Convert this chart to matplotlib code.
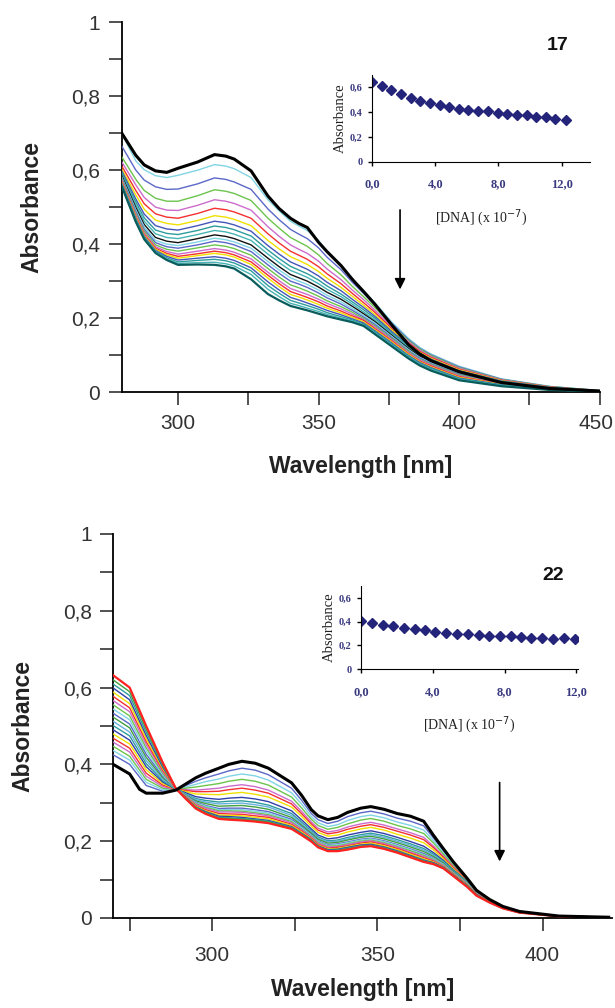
import matplotlib
matplotlib.use("Agg")
import matplotlib.pyplot as plt
import matplotlib.transforms as mtransforms
import numpy as np
from matplotlib.ticker import FuncFormatter, MultipleLocator

plt.rcParams['font.family'] = ['Liberation Sans', 'DejaVu Sans']

# ---- compound 17: wavelengths and spectra (one row per wavelength, 21 titration steps)
wl17 = [280, 285, 288, 292, 296, 300, 307, 313, 317, 320, 326, 332, 336, 340, 343, 346, 350, 353, 358, 362,
        366, 370, 376, 382, 386, 390, 400, 415, 432, 450]
abs17_rows = [
    [0.700, 0.698, 0.665, 0.636, 0.622, 0.611, 0.603, 0.598, 0.593, 0.589, 0.585, 0.581, 0.578, 0.575, 0.572, 0.569, 0.566, 0.564, 0.561, 0.559, 0.556],
    [0.640, 0.625, 0.600, 0.575, 0.560, 0.545, 0.533, 0.522, 0.514, 0.506, 0.499, 0.493, 0.488, 0.483, 0.479, 0.475, 0.472, 0.469, 0.466, 0.463, 0.460],
    [0.614, 0.601, 0.573, 0.545, 0.526, 0.509, 0.494, 0.481, 0.471, 0.462, 0.453, 0.446, 0.440, 0.435, 0.430, 0.426, 0.423, 0.420, 0.417, 0.415, 0.413],
    [0.598, 0.585, 0.555, 0.524, 0.500, 0.482, 0.465, 0.450, 0.438, 0.428, 0.418, 0.410, 0.404, 0.398, 0.393, 0.389, 0.386, 0.383, 0.380, 0.378, 0.376],
    [0.594, 0.580, 0.548, 0.516, 0.492, 0.473, 0.456, 0.441, 0.429, 0.418, 0.408, 0.400, 0.393, 0.386, 0.380, 0.375, 0.371, 0.367, 0.363, 0.360, 0.357],
    [0.605, 0.586, 0.549, 0.516, 0.491, 0.470, 0.452, 0.438, 0.426, 0.415, 0.404, 0.396, 0.389, 0.381, 0.373, 0.367, 0.362, 0.357, 0.352, 0.348, 0.344],
    [0.622, 0.600, 0.563, 0.531, 0.505, 0.483, 0.464, 0.450, 0.437, 0.426, 0.415, 0.406, 0.398, 0.390, 0.381, 0.374, 0.369, 0.362, 0.356, 0.350, 0.345],
    [0.642, 0.615, 0.579, 0.547, 0.520, 0.497, 0.477, 0.462, 0.449, 0.437, 0.425, 0.416, 0.408, 0.398, 0.388, 0.381, 0.375, 0.366, 0.359, 0.351, 0.344],
    [0.638, 0.611, 0.575, 0.543, 0.516, 0.493, 0.473, 0.458, 0.445, 0.433, 0.421, 0.412, 0.404, 0.394, 0.384, 0.377, 0.371, 0.362, 0.355, 0.347, 0.340],
    [0.630, 0.604, 0.568, 0.537, 0.510, 0.487, 0.467, 0.452, 0.439, 0.427, 0.415, 0.406, 0.398, 0.388, 0.378, 0.371, 0.365, 0.356, 0.349, 0.341, 0.334],
    [0.598, 0.580, 0.548, 0.518, 0.492, 0.470, 0.450, 0.435, 0.422, 0.410, 0.398, 0.389, 0.380, 0.370, 0.360, 0.352, 0.345, 0.336, 0.328, 0.318, 0.305],
    [0.530, 0.520, 0.495, 0.470, 0.447, 0.428, 0.410, 0.396, 0.384, 0.373, 0.362, 0.353, 0.344, 0.334, 0.324, 0.316, 0.308, 0.298, 0.288, 0.278, 0.265],
    [0.496, 0.490, 0.466, 0.443, 0.421, 0.403, 0.387, 0.373, 0.361, 0.350, 0.339, 0.330, 0.321, 0.311, 0.301, 0.293, 0.285, 0.276, 0.267, 0.258, 0.248],
    [0.470, 0.462, 0.440, 0.418, 0.398, 0.381, 0.366, 0.352, 0.340, 0.329, 0.318, 0.309, 0.300, 0.290, 0.280, 0.272, 0.264, 0.256, 0.248, 0.240, 0.233],
    [0.456, 0.449, 0.427, 0.406, 0.386, 0.370, 0.356, 0.342, 0.330, 0.320, 0.309, 0.300, 0.292, 0.282, 0.272, 0.264, 0.257, 0.249, 0.241, 0.234, 0.227],
    [0.445, 0.437, 0.415, 0.394, 0.375, 0.359, 0.345, 0.332, 0.320, 0.310, 0.300, 0.291, 0.283, 0.273, 0.264, 0.256, 0.249, 0.241, 0.234, 0.227, 0.221],
    [0.405, 0.410, 0.390, 0.371, 0.354, 0.339, 0.326, 0.314, 0.303, 0.293, 0.284, 0.276, 0.268, 0.259, 0.251, 0.244, 0.237, 0.230, 0.224, 0.218, 0.212],
    [0.380, 0.380, 0.365, 0.348, 0.333, 0.320, 0.308, 0.297, 0.287, 0.278, 0.270, 0.262, 0.255, 0.247, 0.240, 0.233, 0.227, 0.221, 0.215, 0.210, 0.205],
    [0.342, 0.344, 0.331, 0.317, 0.304, 0.293, 0.283, 0.274, 0.265, 0.258, 0.251, 0.244, 0.238, 0.231, 0.225, 0.219, 0.214, 0.209, 0.204, 0.200, 0.196],
    [0.305, 0.307, 0.297, 0.286, 0.276, 0.267, 0.259, 0.251, 0.244, 0.238, 0.232, 0.226, 0.221, 0.216, 0.211, 0.206, 0.202, 0.198, 0.195, 0.192, 0.189],
    [0.272, 0.275, 0.267, 0.258, 0.250, 0.242, 0.235, 0.229, 0.223, 0.217, 0.212, 0.207, 0.203, 0.199, 0.196, 0.194, 0.190, 0.187, 0.184, 0.181, 0.179],
    [0.238, 0.242, 0.236, 0.229, 0.222, 0.216, 0.210, 0.205, 0.200, 0.195, 0.191, 0.187, 0.183, 0.179, 0.176, 0.172, 0.169, 0.166, 0.163, 0.160, 0.157],
    [0.182, 0.190, 0.186, 0.181, 0.176, 0.172, 0.168, 0.164, 0.160, 0.157, 0.154, 0.151, 0.148, 0.145, 0.142, 0.139, 0.136, 0.133, 0.130, 0.127, 0.124],
    [0.128, 0.145, 0.142, 0.139, 0.136, 0.133, 0.130, 0.127, 0.124, 0.121, 0.118, 0.115, 0.112, 0.110, 0.107, 0.104, 0.102, 0.099, 0.097, 0.094, 0.091],
    [0.103, 0.121, 0.118, 0.116, 0.113, 0.110, 0.107, 0.105, 0.102, 0.099, 0.097, 0.094, 0.092, 0.089, 0.087, 0.084, 0.082, 0.080, 0.077, 0.075, 0.072],
    [0.085, 0.103, 0.101, 0.099, 0.096, 0.094, 0.091, 0.089, 0.087, 0.084, 0.082, 0.080, 0.077, 0.075, 0.073, 0.071, 0.068, 0.066, 0.064, 0.061, 0.058],
    [0.055, 0.070, 0.068, 0.066, 0.064, 0.062, 0.060, 0.058, 0.056, 0.054, 0.052, 0.050, 0.048, 0.046, 0.044, 0.042, 0.040, 0.038, 0.036, 0.034, 0.032],
    [0.026, 0.036, 0.035, 0.034, 0.033, 0.032, 0.031, 0.030, 0.029, 0.028, 0.027, 0.026, 0.025, 0.024, 0.023, 0.022, 0.021, 0.020, 0.019, 0.018, 0.016],
    [0.010, 0.016, 0.015, 0.015, 0.014, 0.014, 0.013, 0.013, 0.012, 0.012, 0.011, 0.011, 0.010, 0.010, 0.009, 0.009, 0.008, 0.008, 0.007, 0.007, 0.006],
    [0.003, 0.004, 0.004, 0.004, 0.003, 0.003, 0.003, 0.003, 0.003, 0.003, 0.002, 0.002, 0.002, 0.002, 0.002, 0.002, 0.001, 0.001, 0.001, 0.001, 0.001],
]
colors17 = ['black', '#80d4e4', '#5b68c8', '#6cc44c', '#cc6ccc', '#f43030', '#f0e000', '#4556b8', '#2e9c9c', '#46b4b4',
            '#111111', '#80d4e4', '#5b68c8', '#6cc44c', '#cc6ccc', '#f43030', '#f0e000', '#4556b8', '#2e9c9c', '#46b4b4', '#0a5c5c']

# ---- compound 22
wl22 = [270, 275, 278, 280, 285, 289, 292, 295, 298, 302, 305, 309, 313, 317, 324, 327, 330, 332, 335, 338,
        341, 345, 348, 352, 356, 360, 364, 367, 370, 373, 377, 380, 384, 388, 393, 405, 420]
abs22_rows = [
    [0.400, 0.425, 0.436, 0.447, 0.458, 0.468, 0.479, 0.490, 0.501, 0.512, 0.523, 0.533, 0.544, 0.555, 0.566, 0.577, 0.588, 0.599, 0.609, 0.620, 0.632],
    [0.375, 0.400, 0.411, 0.421, 0.432, 0.442, 0.453, 0.463, 0.474, 0.484, 0.495, 0.505, 0.516, 0.526, 0.537, 0.547, 0.558, 0.568, 0.579, 0.589, 0.600],
    [0.335, 0.367, 0.376, 0.385, 0.394, 0.403, 0.413, 0.422, 0.431, 0.440, 0.449, 0.458, 0.467, 0.476, 0.485, 0.494, 0.503, 0.512, 0.521, 0.530, 0.540],
    [0.325, 0.345, 0.353, 0.361, 0.369, 0.377, 0.386, 0.394, 0.402, 0.410, 0.418, 0.426, 0.435, 0.443, 0.451, 0.459, 0.467, 0.475, 0.484, 0.492, 0.500],
    [0.325, 0.330, 0.334, 0.338, 0.342, 0.346, 0.350, 0.354, 0.358, 0.362, 0.366, 0.370, 0.373, 0.377, 0.381, 0.385, 0.389, 0.393, 0.397, 0.401, 0.405],
    [0.333, 0.333, 0.334, 0.334, 0.334, 0.335, 0.335, 0.335, 0.335, 0.336, 0.336, 0.336, 0.336, 0.336, 0.336, 0.337, 0.337, 0.337, 0.337, 0.337, 0.337],
    [0.349, 0.345, 0.341, 0.338, 0.334, 0.332, 0.329, 0.326, 0.323, 0.322, 0.320, 0.319, 0.318, 0.317, 0.316, 0.315, 0.314, 0.313, 0.312, 0.311, 0.310],
    [0.365, 0.356, 0.348, 0.341, 0.333, 0.329, 0.323, 0.316, 0.311, 0.308, 0.305, 0.302, 0.300, 0.298, 0.296, 0.293, 0.291, 0.289, 0.288, 0.287, 0.285],
    [0.377, 0.365, 0.355, 0.345, 0.335, 0.329, 0.322, 0.312, 0.306, 0.302, 0.298, 0.293, 0.291, 0.288, 0.286, 0.282, 0.279, 0.277, 0.275, 0.273, 0.271],
    [0.390, 0.375, 0.362, 0.350, 0.338, 0.330, 0.321, 0.309, 0.302, 0.297, 0.291, 0.285, 0.282, 0.279, 0.276, 0.272, 0.268, 0.265, 0.262, 0.260, 0.258],
    [0.400, 0.383, 0.369, 0.356, 0.343, 0.334, 0.324, 0.312, 0.304, 0.298, 0.292, 0.286, 0.282, 0.279, 0.276, 0.271, 0.267, 0.264, 0.261, 0.259, 0.256],
    [0.408, 0.390, 0.375, 0.361, 0.347, 0.338, 0.327, 0.314, 0.305, 0.299, 0.293, 0.286, 0.282, 0.278, 0.275, 0.270, 0.266, 0.262, 0.259, 0.257, 0.254],
    [0.403, 0.385, 0.370, 0.356, 0.342, 0.333, 0.322, 0.310, 0.301, 0.295, 0.289, 0.282, 0.278, 0.274, 0.271, 0.266, 0.262, 0.258, 0.256, 0.254, 0.251],
    [0.390, 0.373, 0.359, 0.346, 0.333, 0.325, 0.315, 0.303, 0.294, 0.289, 0.283, 0.277, 0.273, 0.269, 0.266, 0.262, 0.258, 0.254, 0.252, 0.250, 0.247],
    [0.352, 0.338, 0.326, 0.315, 0.304, 0.297, 0.289, 0.279, 0.272, 0.267, 0.262, 0.257, 0.254, 0.251, 0.248, 0.244, 0.241, 0.238, 0.236, 0.234, 0.232],
    [0.320, 0.307, 0.297, 0.287, 0.278, 0.272, 0.265, 0.256, 0.250, 0.246, 0.242, 0.238, 0.235, 0.232, 0.230, 0.227, 0.224, 0.221, 0.219, 0.218, 0.216],
    [0.282, 0.272, 0.264, 0.257, 0.250, 0.245, 0.239, 0.232, 0.227, 0.224, 0.221, 0.217, 0.215, 0.213, 0.211, 0.208, 0.206, 0.204, 0.202, 0.201, 0.199],
    [0.266, 0.256, 0.248, 0.241, 0.234, 0.229, 0.223, 0.216, 0.211, 0.208, 0.205, 0.201, 0.199, 0.197, 0.195, 0.192, 0.190, 0.188, 0.186, 0.185, 0.184],
    [0.256, 0.246, 0.238, 0.231, 0.224, 0.219, 0.213, 0.206, 0.201, 0.198, 0.195, 0.191, 0.189, 0.187, 0.185, 0.182, 0.180, 0.178, 0.176, 0.175, 0.174],
    [0.262, 0.252, 0.243, 0.236, 0.228, 0.223, 0.216, 0.209, 0.203, 0.200, 0.197, 0.193, 0.191, 0.188, 0.186, 0.184, 0.181, 0.179, 0.177, 0.176, 0.174],
    [0.275, 0.264, 0.254, 0.245, 0.237, 0.231, 0.224, 0.216, 0.210, 0.206, 0.203, 0.198, 0.196, 0.193, 0.191, 0.188, 0.186, 0.184, 0.182, 0.180, 0.178],
    [0.286, 0.274, 0.264, 0.255, 0.245, 0.239, 0.232, 0.223, 0.217, 0.213, 0.210, 0.205, 0.203, 0.200, 0.198, 0.195, 0.192, 0.190, 0.188, 0.186, 0.185],
    [0.290, 0.278, 0.268, 0.259, 0.249, 0.243, 0.236, 0.227, 0.221, 0.217, 0.213, 0.208, 0.206, 0.203, 0.201, 0.198, 0.195, 0.192, 0.190, 0.188, 0.187],
    [0.283, 0.271, 0.261, 0.252, 0.242, 0.236, 0.229, 0.220, 0.214, 0.210, 0.206, 0.201, 0.199, 0.196, 0.194, 0.191, 0.188, 0.185, 0.183, 0.181, 0.180],
    [0.272, 0.260, 0.250, 0.241, 0.232, 0.226, 0.218, 0.210, 0.204, 0.200, 0.196, 0.191, 0.189, 0.186, 0.184, 0.181, 0.178, 0.175, 0.173, 0.172, 0.170],
    [0.265, 0.252, 0.241, 0.232, 0.222, 0.216, 0.208, 0.199, 0.193, 0.189, 0.185, 0.180, 0.178, 0.175, 0.172, 0.169, 0.166, 0.163, 0.161, 0.160, 0.158],
    [0.252, 0.240, 0.229, 0.220, 0.210, 0.204, 0.196, 0.187, 0.181, 0.177, 0.173, 0.168, 0.165, 0.163, 0.160, 0.157, 0.154, 0.151, 0.149, 0.148, 0.146],
    [0.215, 0.208, 0.201, 0.195, 0.187, 0.183, 0.177, 0.170, 0.166, 0.163, 0.160, 0.156, 0.154, 0.152, 0.150, 0.148, 0.146, 0.144, 0.142, 0.141, 0.140],
    [0.180, 0.175, 0.170, 0.166, 0.161, 0.158, 0.154, 0.150, 0.147, 0.145, 0.143, 0.140, 0.139, 0.137, 0.136, 0.134, 0.133, 0.132, 0.131, 0.130, 0.129],
    [0.146, 0.143, 0.139, 0.136, 0.133, 0.131, 0.128, 0.125, 0.123, 0.121, 0.120, 0.118, 0.117, 0.116, 0.115, 0.114, 0.113, 0.112, 0.111, 0.110, 0.109],
    [0.105, 0.104, 0.102, 0.101, 0.100, 0.099, 0.097, 0.096, 0.095, 0.094, 0.093, 0.092, 0.091, 0.090, 0.089, 0.088, 0.087, 0.086, 0.085, 0.084, 0.082],
    [0.072, 0.072, 0.071, 0.070, 0.069, 0.068, 0.068, 0.067, 0.066, 0.066, 0.065, 0.064, 0.064, 0.063, 0.063, 0.062, 0.061, 0.061, 0.060, 0.059, 0.058],
    [0.048, 0.048, 0.047, 0.047, 0.047, 0.046, 0.046, 0.045, 0.045, 0.045, 0.044, 0.044, 0.043, 0.043, 0.043, 0.042, 0.042, 0.041, 0.041, 0.041, 0.040],
    [0.030, 0.030, 0.029, 0.029, 0.029, 0.029, 0.028, 0.028, 0.028, 0.028, 0.027, 0.027, 0.027, 0.027, 0.026, 0.026, 0.026, 0.026, 0.025, 0.025, 0.025],
    [0.017, 0.017, 0.017, 0.016, 0.016, 0.016, 0.016, 0.016, 0.016, 0.015, 0.015, 0.015, 0.015, 0.015, 0.015, 0.015, 0.014, 0.014, 0.014, 0.014, 0.014],
    [0.005, 0.005, 0.005, 0.005, 0.005, 0.005, 0.005, 0.005, 0.004, 0.004, 0.004, 0.004, 0.004, 0.004, 0.004, 0.004, 0.004, 0.004, 0.004, 0.004, 0.004],
    [0.002, 0.002, 0.002, 0.002, 0.002, 0.002, 0.002, 0.002, 0.001, 0.001, 0.001, 0.001, 0.001, 0.001, 0.001, 0.001, 0.001, 0.001, 0.001, 0.001, 0.001],
]
colors22 = ['black', '#5b68c8', '#80d4e4', '#6cc44c', '#cc6ccc', '#f43030', '#f0e000', '#3040a8', '#2e9c9c', '#66b0e0',
            '#40a040', '#5b68c8', '#80d4e4', '#6cc44c', '#cc6ccc', '#f43030', '#f0e000', '#3040a8', '#2e9c9c', '#40a040', '#ff2020']

# ---- insets: absorbance at the band maximum vs [DNA]
dna17 = [0.0, 0.6, 1.2, 1.85, 2.45, 3.05, 3.65, 4.3, 4.9, 5.5, 6.1, 6.7, 7.35, 7.95, 8.55, 9.2, 9.8, 10.4, 11.0, 11.6, 12.25]
peak17 = [0.64, 0.613, 0.579, 0.547, 0.515, 0.493, 0.472, 0.459, 0.44, 0.427, 0.419, 0.413, 0.408, 0.397, 0.387,
          0.381, 0.376, 0.365, 0.36, 0.349, 0.339]
dna22 = [0.0, 0.6, 1.2, 1.8, 2.4, 3.0, 3.55, 4.15, 4.75, 5.35, 5.95, 6.55, 7.15, 7.75, 8.35, 8.9, 9.5, 10.1, 10.7, 11.3, 11.9]
peak22 = [0.408, 0.389, 0.375, 0.36, 0.346, 0.338, 0.327, 0.313, 0.304, 0.299, 0.293, 0.285, 0.282, 0.279, 0.276,
          0.27, 0.265, 0.259, 0.256, 0.259, 0.256]

comma = FuncFormatter(lambda v, p: ('%g' % round(v, 2)).replace('.', ','))
comma1 = FuncFormatter(lambda v, p: ('%.1f' % v).replace('.', ','))

fig = plt.figure(figsize=(6.15, 10.08), dpi=100)


def main_axes(rect, wl, rows, colors, xlim, arrow_x, arrow_y, xpad, xlabpad):
    ax = fig.add_axes(rect)
    spectra = np.array(rows).T
    n = len(spectra)
    for i, s in enumerate(spectra):
        if i == 0:
            ax.plot(wl, s, color=colors[i], lw=2.2, zorder=5)
        elif i == n - 1:
            ax.plot(wl, s, color=colors[i], lw=1.6, zorder=4)
        else:
            ax.plot(wl, s, color=colors[i], lw=1.0, zorder=3)
    ax.set_xlim(*xlim)
    ax.set_ylim(0, 1)
    for sp in ['top', 'right']:
        ax.spines[sp].set_visible(False)
    for sp in ['left', 'bottom']:
        ax.spines[sp].set_linewidth(1.3)
    ax.xaxis.set_major_locator(MultipleLocator(50))
    ax.xaxis.set_minor_locator(MultipleLocator(25))
    ax.yaxis.set_major_locator(MultipleLocator(0.2))
    ax.yaxis.set_minor_locator(MultipleLocator(0.1))
    ax.yaxis.set_major_formatter(comma)
    ax.tick_params(which='both', direction='out', length=9.5, width=1.1, color='#222222')
    ax.tick_params(labelsize=15, labelcolor='#333333', pad=6)
    ax.tick_params(axis='x', pad=xpad)
    ax.set_xlabel('Wavelength [nm]', fontsize=16.5, fontweight='bold', color='#222222', labelpad=xlabpad)
    ax.set_ylabel('Absorbance', fontsize=16.5, fontweight='bold', color='#222222', labelpad=20)
    ax.annotate('', xy=(arrow_x, arrow_y[1]), xytext=(arrow_x, arrow_y[0]),
                arrowprops=dict(arrowstyle='-|>', color='black', lw=1.2, mutation_scale=16))
    return ax


def inset_axes(rect, x, y, xmax):
    ax = fig.add_axes(rect)
    ax.plot(x, y, 'D', color='#24247a', markersize=5.5)
    ax.set_xlim(0, xmax)
    ax.set_ylim(0, 0.7)
    for sp in ['top', 'right']:
        ax.spines[sp].set_visible(False)
    ax.xaxis.set_major_locator(MultipleLocator(4))
    ax.yaxis.set_major_locator(MultipleLocator(0.2))
    ax.xaxis.set_major_formatter(comma1)
    ax.yaxis.set_major_formatter(comma)
    ax.tick_params(direction='out', length=3, width=1, labelcolor='#3a3a80')
    ax.tick_params(axis='x', labelsize=9, pad=9)
    ax.tick_params(axis='y', labelsize=7.5, pad=4)
    for lab in ax.get_xticklabels() + ax.get_yticklabels():
        lab.set_family('Liberation Serif')
        lab.set_fontweight('bold')
    ax.set_ylabel('Absorbance', family='Liberation Serif', fontsize=10.5, color='#222222', labelpad=2)
    ax.set_xlabel('[DNA] (x 10$^{-7}$)', family='Liberation Serif', fontsize=10, color='#222222', labelpad=12)
    ax.patch.set_alpha(0)
    return ax


ax1 = main_axes([0.198, 0.611, 0.777, 0.367], wl17, abs17_rows, colors17, (280, 450), 379, (0.50, 0.27), 6, 16)
ax2 = main_axes([0.184, 0.0893, 0.811, 0.381], wl22, abs22_rows, colors22, (270, 421), 387, (0.36, 0.14), 11, 9)

# the last tick label of the upper plot sits on the right edge: nudge it inwards a little
fig.canvas.draw()
for lab in ax1.get_xticklabels():
    if lab.get_text() == '450':
        lab.set_transform(lab.get_transform() + mtransforms.ScaledTranslation(-4 / 100, 0, fig.dpi_scale_trans))

inset_axes([0.605, 0.8393, 0.3545, 0.0863], dna17, peak17, 13.8)
inset_axes([0.587, 0.3363, 0.353, 0.0823], dna22, peak22, 12.1)

fig.text(0.906, 0.955, '17', fontsize=14, fontweight='bold', ha='center', va='center', color='#111111')
fig.text(0.899, 0.429, '22', fontsize=14, fontweight='bold', ha='center', va='center', color='#111111')

fig.savefig('out.png', dpi=100)
